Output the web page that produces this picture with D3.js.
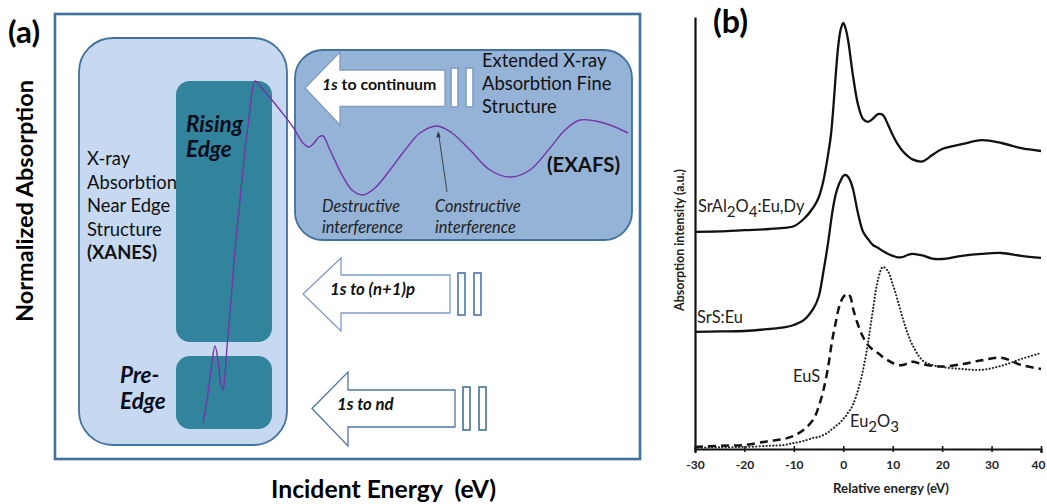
<!DOCTYPE html>
<html>
<head>
<meta charset="utf-8">
<script src="https://cdn.jsdelivr.net/npm/d3@7"></script>
<style>
  html, body { margin: 0; padding: 0; background: #fff; }
  svg { display: block; }
</style>
</head>
<body>
<svg id="fig" width="1047" height="504"></svg>
<script>
// ---------- Panel (b): Eu L3-edge XANES spectra ----------
const energy = [-30, -25, -20, -15, -12, -10, -8, -6, -5, -4, -3, -2.5, -2, -1.5, -1, -0.5,
  0, 0.5, 1, 1.5, 2, 3, 4, 5, 6, 7, 8, 9, 10, 11, 12, 13, 14, 16, 18, 20, 24, 28, 32, 36, 40];
const srAlIntensity = [5.43, 5.44, 5.47, 5.5, 5.53, 5.57, 5.75, 6.05, 6.28, 6.72, 7.42, 7.85, 8.55, 9.4, 10.1, 10.5,
  10.65, 10.5, 10.2, 9.75, 9.3, 8.6, 8.25, 8.18, 8.26, 8.37, 8.35, 8.12, 7.85, 7.62, 7.45, 7.33, 7.24, 7.19, 7.35, 7.5, 7.62, 7.72, 7.65, 7.52, 7.45];
const srSIntensity = [2.93, 2.94, 2.95, 3.0, 3.04, 3.1, 3.22, 3.52, 3.8, 4.45, 5.22, 5.68, 6.08, 6.38, 6.58, 6.72,
  6.83, 6.85, 6.8, 6.68, 6.48, 5.88, 5.43, 5.25, 5.1, 5.03, 4.95, 4.88, 4.83, 4.79, 4.8, 4.85, 4.88, 4.84, 4.76, 4.75, 4.83, 4.88, 4.9, 4.83, 4.78];
const euSIntensity = [0.05, 0.08, 0.1, 0.2, 0.25, 0.33, 0.48, 0.75, 1.05, 1.48, 2.1, 2.52, 2.88, 3.18, 3.48, 3.68,
  3.8, 3.86, 3.88, 3.78, 3.5, 3.1, 2.8, 2.6, 2.48, 2.4, 2.3, 2.22, 2.15, 2.1, 2.1, 2.14, 2.18, 2.12, 2.08, 2.06, 2.12, 2.22, 2.28, 2.1, 2.0];
const eu2O3Intensity = [0.03, 0.04, 0.05, 0.08, 0.1, 0.15, 0.2, 0.28, 0.3, 0.35, 0.42, 0.48, 0.52, 0.58, 0.62, 0.68,
  0.75, 0.82, 0.92, 1.0, 1.12, 1.48, 1.98, 2.65, 3.48, 4.22, 4.55, 4.45, 4.12, 3.72, 3.28, 2.9, 2.6, 2.22, 2.1, 2.05, 2.0, 1.98, 2.08, 2.25, 2.4];
const energyTicks = [-30, -20, -10, 0, 10, 20, 30, 40];

// ---------- Panel (a): schematic absorption edge (arbitrary units) ----------
const xasEnergy = [29.6, 30.4, 31.2, 32.0, 32.6, 33.2, 33.6, 34.0, 34.4, 35.2, 36.0, 37.0, 38.0, 38.8, 39.4, 40.0,
  41.0, 42.4, 45.0, 47.6, 49.6, 50.8, 51.8, 52.8, 53.6, 55.0, 57.4, 59.4, 61.6, 64.0, 67.0, 70.0, 73.0, 76.4,
  79.4, 83.0, 87.0, 91.0, 95.0, 99.0, 102.0, 105.0, 109.0, 112.0, 114.6];
const xasAbsorption = [7.2, 11.8, 17.8, 22.6, 19.8, 14.8, 13.8, 16.8, 22.4, 31.8, 41.8, 51.8, 61.8, 68.2, 73.2, 75.6,
  74.6, 73.0, 69.8, 66.4, 63.2, 62.4, 63.2, 64.4, 64.6, 61.8, 56.8, 53.8, 52.8, 54.2, 57.8, 61.8, 65.2, 66.6,
  65.2, 61.8, 57.8, 56.4, 57.8, 62.2, 65.8, 67.8, 67.4, 66.4, 65.2];

const FONT = "Lato, 'Open Sans', 'DejaVu Sans', sans-serif";
const svg = d3.select("#fig");

// font size that makes a string span the given width
function fitSize(str, width, weight = "normal", style = "normal") {
  const t = svg.append("text").attr("font-family", FONT).attr("font-size", 100)
    .attr("font-weight", weight).attr("font-style", style).text(str);
  const w = t.node().getComputedTextLength();
  t.remove();
  return 100 * width / w;
}

function addText(parent, x, y, str, size, weight = "normal", style = "normal", anchor = "start", fill = "#111") {
  return parent.append("text")
    .attr("x", x).attr("y", y)
    .attr("font-family", FONT).attr("font-size", size)
    .attr("font-weight", weight).attr("font-style", style)
    .attr("text-anchor", anchor).attr("fill", fill)
    .text(str);
}

// ======================= Panel (a) =======================
const a = svg.append("g");
const xA = d3.scaleLinear().domain([0, 117]).range([55, 640]);
const yA = d3.scaleLinear().domain([0, 89]).range([459, 14]);

const frameBlue = "#41719c";

// outer frame
a.append("rect").attr("x", xA(0)).attr("y", yA(89)).attr("width", xA(117) - xA(0)).attr("height", yA(0) - yA(89))
  .attr("fill", "#fff").attr("stroke", frameBlue).attr("stroke-width", 2.6);

// XANES region
a.append("rect").attr("x", 79).attr("y", 38).attr("width", 208).attr("height", 407).attr("rx", 34)
  .attr("fill", "#c6d9f1").attr("stroke", frameBlue).attr("stroke-width", 1.8);
// rising-edge and pre-edge blocks
a.append("rect").attr("x", 176).attr("y", 81).attr("width", 96).attr("height", 261).attr("rx", 14).attr("fill", "#31849b");
a.append("rect").attr("x", 176).attr("y", 356).attr("width", 96).attr("height", 73).attr("rx", 14).attr("fill", "#31849b");

// EXAFS region
a.append("rect").attr("x", 295).attr("y", 50).attr("width", 337).attr("height", 190).attr("rx", 28)
  .attr("fill", "#95b3d7").attr("stroke", frameBlue).attr("stroke-width", 1.8);

// block arrows with energy-level bars
function blockArrow(tipX, tipY, headX, headTop, headBot, shaftTop, shaftBot, tailX, stroke) {
  const p = d3.path();
  p.moveTo(tipX, tipY);
  p.lineTo(headX, headTop); p.lineTo(headX, shaftTop); p.lineTo(tailX, shaftTop);
  p.lineTo(tailX, shaftBot); p.lineTo(headX, shaftBot); p.lineTo(headX, headBot);
  p.closePath();
  a.append("path").attr("d", p.toString()).attr("fill", "#fff").attr("stroke", stroke).attr("stroke-width", 1.3);
}
function levelBars(x1, x2, w, top, bot, stroke) {
  [x1, x2].forEach(x => a.append("rect").attr("x", x).attr("y", top).attr("width", w).attr("height", bot - top)
    .attr("fill", "#fff").attr("stroke", stroke).attr("stroke-width", 1.6));
}
blockArrow(305, 88, 340, 52, 125, 70, 106.5, 445, "#7f9cc4");
levelBars(451, 466, 7, 68, 107, "#7f9cc4");
blockArrow(303, 294, 341, 258, 331, 275, 313, 450, "#7d9cc9");
levelBars(458, 474, 7, 273, 315, "#4f76a8");
blockArrow(312, 408.5, 348, 372, 446, 390, 427, 455, "#4f76a8");
levelBars(463, 479, 7, 387, 430, "#41719c");

// absorption curve
const xasLine = d3.line()
  .x((d, i) => xA(xasEnergy[i]))
  .y(d => yA(d))
  .curve(d3.curveCatmullRom.alpha(0.5));
a.append("path").attr("d", xasLine(xasAbsorption)).attr("fill", "none")
  .attr("stroke", "#7435a8").attr("stroke-width", 1.4);

// pointer to the constructive-interference maximum
a.append("line").attr("x1", 447).attr("y1", 192).attr("x2", 438.5).attr("y2", 133)
  .attr("stroke", "#333").attr("stroke-width", 0.9);
a.append("path").attr("d", "M438.2,131 L436.3,137.5 L440.6,136.9 Z").attr("fill", "#333");

// texts, panel (a)
const sA = fitSize("(a)", 32, "bold");
addText(a, 8, 43, "(a)", sA, "bold", "normal", "start", "#000");

const sAxis = fitSize("Normalized Absorption", 242, "bold");
addText(a, 0, 0, "Normalized Absorption", sAxis, "bold", "normal", "middle", "#000")
  .attr("transform", "translate(33,201) rotate(-90)");
const sAxisX = fitSize("Incident Energy  (eV)", 219, "bold");
addText(a, 383.5, 498, "Incident Energy \u00a0(eV)", sAxisX, "bold", "normal", "middle", "#000");

const sBody = fitSize("Absorbtion", 90);
["X-ray", "Absorbtion", "Near Edge", "Structure"].forEach((s, i) =>
  addText(a, 87, 165 + i * 23.5, s, sBody, "normal", "normal", "start", "#111"));
addText(a, 87, 259, "(XANES)", sBody, "bold", "normal", "start", "#111");

const sBlock = fitSize("Rising", 57, "bold", "italic");
addText(a, 186, 132, "Rising", sBlock, "bold", "italic", "start", "#0c0c20");
addText(a, 186, 157, "Edge", sBlock, "bold", "italic", "start", "#0c0c20");
addText(a, 120, 383, "Pre-", sBlock, "bold", "italic", "start", "#0c0c20");
addText(a, 120, 409, "Edge", sBlock, "bold", "italic", "start", "#0c0c20");

["Extended X-ray", "Absorbtion Fine", "Structure"].forEach((s, i) =>
  addText(a, 482, 67 + i * 23, s, sBody, "normal", "normal", "start", "#111"));
const sExafs = fitSize("(EXAFS)", 73, "bold");
addText(a, 547, 172, "(EXAFS)", sExafs, "bold", "normal", "start", "#111");

const sItal = fitSize("Destructive", 78, "normal", "italic");
addText(a, 322, 212, "Destructive", sItal, "normal", "italic", "start", "#222");
addText(a, 322, 233, "interference", sItal, "normal", "italic", "start", "#222");
addText(a, 435, 212, "Constructive", sItal, "normal", "italic", "start", "#222");
addText(a, 435, 233, "interference", sItal, "normal", "italic", "start", "#222");

const sArrow = fitSize("1s to continuum", 115, "bold");
const t1 = addText(a, 322, 90, "", sArrow, "bold", "normal", "start", "#111");
t1.append("tspan").attr("font-style", "italic").text("1s");
t1.append("tspan").text(" to continuum");
const sArrow2 = fitSize("1s to (n+1)p", 85, "bold", "italic");
addText(a, 330, 295, "1s to (n+1)p", sArrow2, "bold", "italic", "start", "#111");
addText(a, 337, 410, "1s to nd", sArrow2, "bold", "italic", "start", "#111");

// ======================= Panel (b) =======================
const b = svg.append("g");
const xB = d3.scaleLinear().domain([-30, 40]).range([695, 1041]);
const yB = d3.scaleLinear().domain([0, 10.8]).range([449, 17]);

const gx = b.append("g").attr("transform", `translate(0,${yB(0)})`)
  .call(d3.axisBottom(xB).tickValues(energyTicks).tickSizeOuter(0).tickSize(4).tickFormat(d => String(d)));
gx.select(".domain").attr("stroke", "#111").attr("stroke-width", 2.2);
gx.selectAll(".tick line").attr("y1", -3).attr("y2", 3).attr("stroke", "#111").attr("stroke-width", 1.5);
gx.selectAll(".tick text").attr("y", 20).attr("dy", 0)
  .attr("font-family", FONT).attr("font-size", 12).attr("font-weight", "bold").attr("fill", "#222");
// keep the last label inside the page edge
gx.selectAll(".tick text").filter(d => d === 40).attr("dx", -3);

const gy = b.append("g").attr("transform", `translate(${xB(-30)},0)`)
  .call(d3.axisLeft(yB).tickValues([]).tickSizeOuter(0));
gy.select(".domain").attr("stroke", "#111").attr("stroke-width", 2.2);

const spectrum = d3.line()
  .x((d, i) => xB(energy[i]))
  .y(d => yB(d))
  .curve(d3.curveCatmullRom.alpha(0.5));

b.append("path").attr("d", spectrum(srAlIntensity)).attr("fill", "none").attr("stroke", "#111").attr("stroke-width", 2.3);
b.append("path").attr("d", spectrum(srSIntensity)).attr("fill", "none").attr("stroke", "#111").attr("stroke-width", 2.3);
b.append("path").attr("d", spectrum(euSIntensity)).attr("fill", "none").attr("stroke", "#111").attr("stroke-width", 2.5)
  .attr("stroke-dasharray", "8,5");
b.append("path").attr("d", spectrum(eu2O3Intensity)).attr("fill", "none").attr("stroke", "#222").attr("stroke-width", 2.1)
  .attr("stroke-dasharray", "0.1,3.3").attr("stroke-linecap", "round");

// texts, panel (b)
const sB = fitSize("(b)", 35, "bold");
addText(b, 713, 33, "(b)", sB, "bold", "normal", "start", "#000");

const sYb = fitSize("Absorption intensity (a.u.)", 142, "bold");
addText(b, 0, 0, "Absorption intensity (a.u.)", sYb, "bold", "normal", "middle", "#222")
  .attr("transform", "translate(684,240) rotate(-90)");
const sXb = fitSize("Relative energy (eV)", 116, "bold");
addText(b, 891, 493, "Relative energy (eV)", sXb, "bold", "normal", "middle", "#222");

const sLab = fitSize("SrS:Eu", 46);
// label with subscripted parts; dy is relative, so track the current shift
function subLabel(x, y, parts) {
  const t = addText(b, x, y, "", sLab, "normal", "normal", "start", "#222");
  let shift = 0;
  parts.forEach(([s, sub]) => {
    const target = sub ? 5 : 0;
    const ts = t.append("tspan").attr("dy", target - shift).text(s);
    if (sub) ts.attr("font-size", sLab * 0.92);
    shift = target;
  });
  return t;
}
subLabel(698, 212, [["SrAl", false], ["2", true], ["O", false], ["4", true], [":Eu,Dy", false]]);
addText(b, 697, 323, "SrS:Eu", sLab, "normal", "normal", "start", "#222");
addText(b, 793, 382, "EuS", sLab, "normal", "normal", "start", "#222");
subLabel(850, 427, [["Eu", false], ["2", true], ["O", false], ["3", true]]);
</script>
</body>
</html>
